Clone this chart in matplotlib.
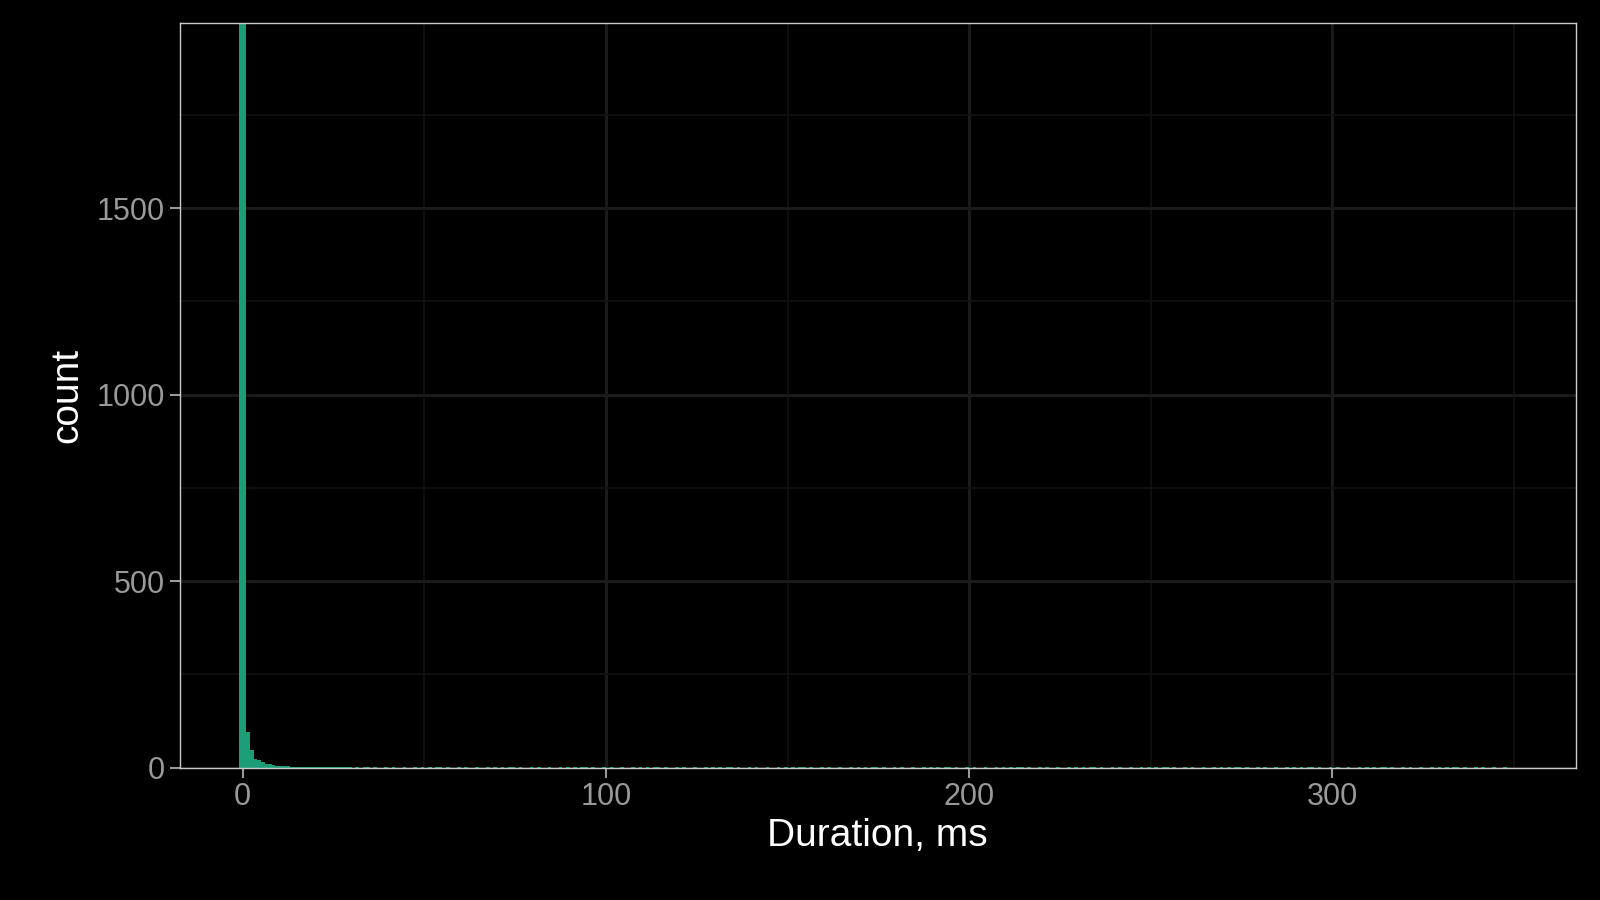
import numpy as np
import matplotlib.pyplot as plt

plt.rcParams['font.family'] = ['Liberation Sans', 'DejaVu Sans']

# histogram of durations, 1 ms bins (left edges), counts
binStart = -1.0
binWidth = 1.0
headCounts = [2400, 2400, 96, 47, 23, 20, 14, 9, 10, 8, 5, 5, 4, 4, 3, 3, 3, 2, 3, 2,
              2, 2, 2, 2, 1, 2, 1, 1, 1, 1]
tailCounts = [1, 0, 1, 0, 1, 1, 0, 1, 0, 0, 1, 0, 1, 0, 0, 1, 0, 0, 1, 0]

counts = headCounts + tailCounts * 16
counts = counts[:352]
edges = [binStart + i * binWidth for i in range(len(counts))]

fig = plt.figure(figsize=(16, 9), dpi=100, facecolor="black")
ax = fig.add_axes([0.1122, 0.147, 0.985 - 0.1122, 0.828])
ax.set_facecolor("black")

ax.bar(edges, counts, width=binWidth, align="edge", color="#1b9e77", linewidth=0)

ax.set_xlim(-17.4, 367.1)
ax.set_ylim(0, 1998)
ax.set_xticks([0, 100, 200, 300])
ax.set_xticks([50, 150, 250, 350], minor=True)
ax.set_yticks([0, 500, 1000, 1500])
ax.set_yticks([250, 750, 1250, 1750], minor=True)
ax.grid(True, which="major", color="#1a1a1a", linewidth=2.2)
ax.grid(True, which="minor", color="#121212", linewidth=1.2)
ax.set_axisbelow(True)

for s in ax.spines.values():
    s.set_color("#cccccc")
    s.set_linewidth(1.0)
ax.tick_params(which="major", colors="#999999", labelsize=22, length=7, width=1.5)
ax.tick_params(which="minor", length=0)
ax.set_xlabel("Duration, ms", color="white", fontsize=28, labelpad=4)
ax.set_ylabel("count", color="white", fontsize=28, labelpad=8)

fig.savefig("out.png", dpi=100, facecolor="black")
